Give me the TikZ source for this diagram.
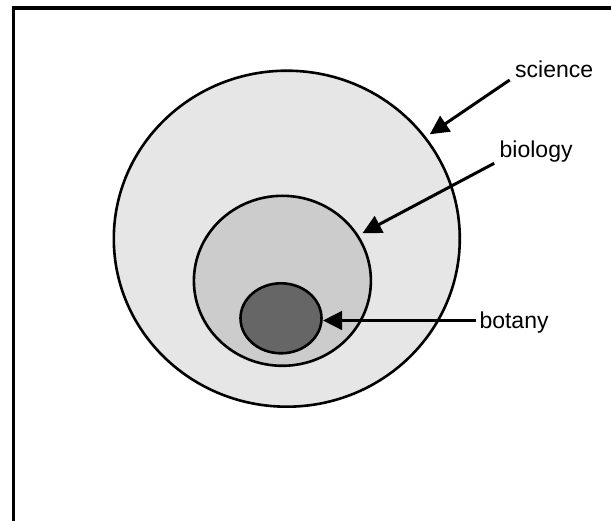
\documentclass[tikz,border=0pt]{standalone}
\usepackage{fontspec}
\setmainfont{Liberation Sans}
\usetikzlibrary{arrows.meta,shapes.geometric}
\definecolor{scifill}{HTML}{E6E6E6}
\definecolor{biofill}{HTML}{CCCCCC}
\definecolor{botfill}{HTML}{666666}
\begin{document}
\begin{tikzpicture}[x=1pt,y=-1pt,
  region/.style={draw=black, line width=2.6pt, ellipse, inner sep=0pt},
  lbl/.style={inner sep=0pt, anchor=base west, font=\fontsize{23}{27}\selectfont},
  pointer/.style={line width=3pt, -{Triangle[length=19pt,width=18.5pt]}},
  frameline/.style={line width=3.6pt}]
\useasboundingbox (0,0) rectangle (611,521);
\fill[white] (0,0) rectangle (611,521);
\draw[frameline] (13.5,523) -- (13.5,8) -- (613,8);
% regions
\node[region, fill=scifill, minimum width=346pt, minimum height=336pt] (science) at (286.8,238.7) {};
\node[region, fill=biofill, minimum width=177pt, minimum height=170pt] (biology) at (282.4,280.8) {};
\node[region, fill=botfill, minimum width=81pt, minimum height=70pt] (botany) at (281,318.3) {};
% labels
\node[lbl] (lsci) at (515,77.3) {science};
\node[lbl] (lbio) at (499.5,157.3) {biology};
\node[lbl] (lbot) at (479.3,328.5) {botany};
% connector ends
\coordinate (ssci) at (509.7,80);
\coordinate (tsci) at (429.8,134.3);
\coordinate (sbio) at (494.2,163.3);
\coordinate (tbio) at (362.4,233.3);
\coordinate (sbot) at (476,320.5);
\coordinate (tbot) at (323,320.5);
\draw[pointer] (ssci) -- (tsci);
\draw[pointer] (sbio) -- (tbio);
\draw[pointer] (sbot) -- (tbot);
\end{tikzpicture}
\end{document}
